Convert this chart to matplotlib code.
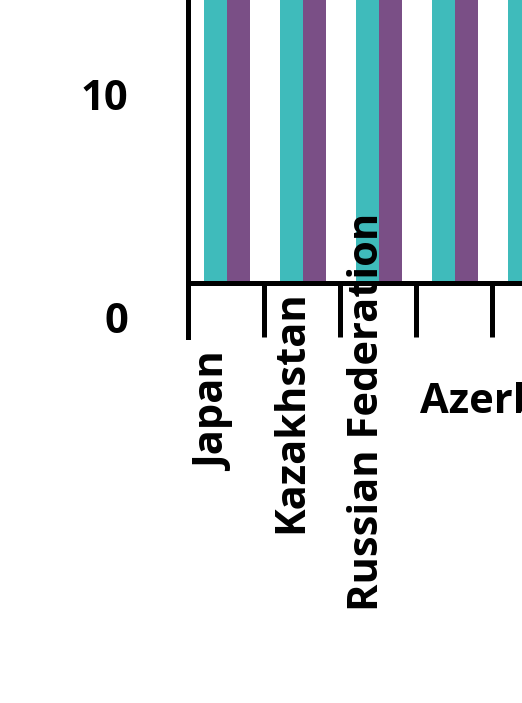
import matplotlib
matplotlib.use("Agg")
import matplotlib.pyplot as plt
import matplotlib.transforms as mtransforms
import numpy as np

countries = ["Japan", "Kazakhstan", "Russian Federation", "Azerbaijan", "Uzbekistan"]
series_a = [16, 16, 16, 16, 16]   # teal, cut off above the frame
series_b = [16, 16, 16, 16, 0]    # purple
y_ticks = [0, 10]

teal = "#3fbbbb"
purple = "#7a4f86"
font = "Open Sans"

fig = plt.figure(figsize=(5.22, 7.03), dpi=100)
ax = fig.add_axes([188 / 522, 1 - 337 / 703, (522 - 188) / 522, 337 / 703])

x = np.arange(len(countries))
ax.bar(x + 0.362, series_a, width=0.30, color=teal, zorder=1)
ax.bar(x + 0.664, series_b, width=0.30, color=purple, zorder=1)

ax.set_xlim(0, (522 - 188) / 76)
ax.set_ylim(-54 / 22.3, 283 / 22.3)

for s in ["top", "right"]:
    ax.spines[s].set_visible(False)
ax.spines["bottom"].set_position(("data", 0))
ax.spines["left"].set_linewidth(3.6)
ax.spines["bottom"].set_linewidth(3.6)
ax.spines["left"].set_zorder(3)
ax.spines["bottom"].set_zorder(3)

ax.set_xticks(np.arange(0, 5))
ax.set_xticklabels([])
ax.tick_params(axis="x", length=38.9, width=3.6, direction="out")

ax.set_yticks(y_ticks)
ax.set_yticklabels([str(v) for v in y_ticks], fontfamily=font, fontweight="bold", fontsize=30)
ax.tick_params(axis="y", length=0, pad=43)
shift = mtransforms.ScaledTranslation(0, -0.35, fig.dpi_scale_trans)
for lab in ax.get_yticklabels():
    lab.set_transform(lab.get_transform() + shift)

trans = ax.get_xaxis_transform()
for i, name in enumerate(countries[:3]):
    ax.text(i + 0.5, -(412 - 337) / 337, name, transform=trans, rotation=90,
            rotation_mode="anchor", ha="center", va="baseline",
            fontfamily=font, fontweight="bold", fontsize=30, clip_on=False)
ax.text((420 - 188) / 76, -(413 - 337) / 337, countries[3], transform=trans,
        ha="left", va="baseline", fontfamily=font, fontweight="bold",
        fontsize=30, clip_on=False)

fig.savefig("out.png", dpi=100)
